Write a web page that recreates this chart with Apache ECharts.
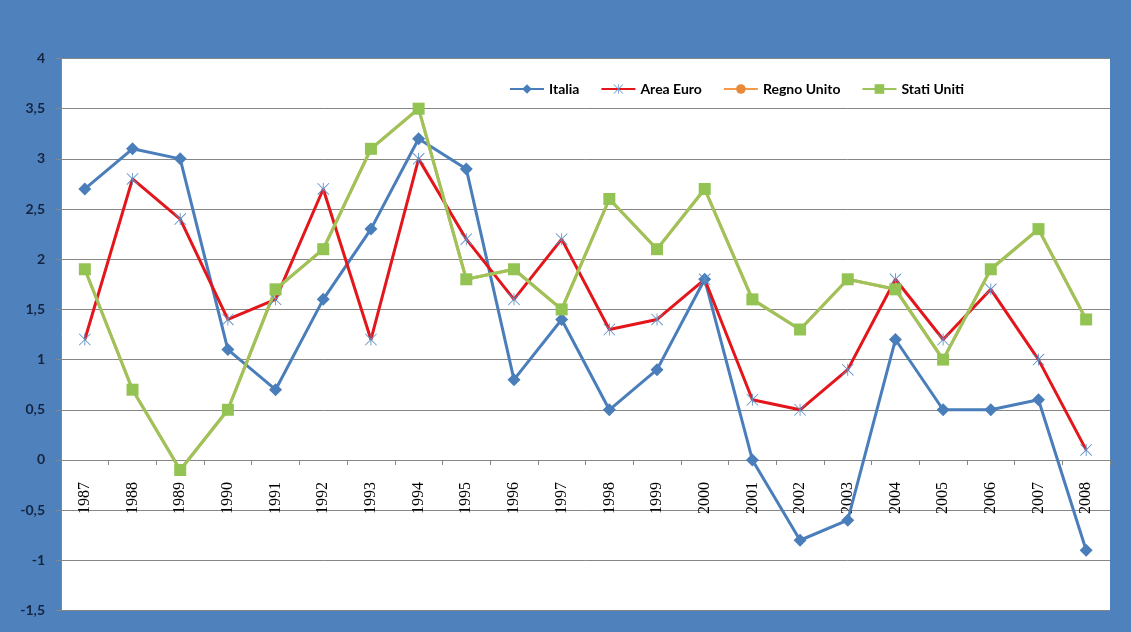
<!DOCTYPE html>
<html><head><meta charset="utf-8">
<script src="https://cdn.jsdelivr.net/npm/echarts@6/dist/echarts.min.js"></script>
<style>html,body{margin:0;padding:0;background:#4F81BD}#c{width:1131px;height:632px}</style>
</head><body><div id="c"></div>
<script>
const years = ['1987','1988','1989','1990','1991','1992','1993','1994','1995','1996','1997','1998','1999','2000','2001','2002','2003','2004','2005','2006','2007','2008'];
const italia = [2.7,3.1,3.0,1.1,0.7,1.6,2.3,3.2,2.9,0.8,1.4,0.5,0.9,1.8,0.0,-0.8,-0.6,1.2,0.5,0.5,0.6,-0.9];
const areaEuro = [1.2,2.8,2.4,1.4,1.6,2.7,1.2,3.0,2.2,1.6,2.2,1.3,1.4,1.8,0.6,0.5,0.9,1.8,1.2,1.7,1.0,0.1];
const regnoUnito = [1.9,0.7,-0.1,0.5,1.7,2.1,3.1,3.5,1.8,1.9,1.5,2.6,2.1,2.7,1.6,1.3,1.8,1.7,1.0,1.9,2.3,1.4];
const statiUniti = [1.9,0.7,-0.1,0.5,1.7,2.1,3.1,3.5,1.8,1.9,1.5,2.6,2.1,2.7,1.6,1.3,1.8,1.7,1.0,1.9,2.3,1.4];
const yMin = -1.5, yMax = 4;

const starPath = 'path://M9.3 0 L10.7 0 L10.7 20 L9.3 20 Z M0 1 L1 0 L20 19 L19 20 Z M19 0 L20 1 L1 20 L0 19 Z';

const gridTop = 58.5, gridBottom = 21.5, H = 632;
const plotH = H - gridTop - gridBottom;
const zeroOffset = -plotH * (0 - yMin) / (yMax - yMin);

const chart = echarts.init(document.getElementById('c'), null, {renderer:'canvas'});
chart.setOption({
  backgroundColor: '#4F81BD',
  animation: false,
  grid: {left: 61, right: 21, top: gridTop, bottom: gridBottom, show: true, backgroundColor: '#FFFFFF', borderWidth: 0, outerBoundsMode: 'none', containLabel: false},
  legend: {
    top: 77, left: 504, itemWidth: 34, itemHeight: 12, itemGap: 21,
    textStyle: {fontFamily: 'Lato', fontSize: 14, fontWeight: 'bold', color: '#000'},
    data: ['Italia','Area Euro','Regno Unito','Stati Uniti']
  },
  xAxis: {
    type: 'category', data: years, boundaryGap: true, position: 'bottom', offset: zeroOffset,
    axisLine: {onZero: false, lineStyle: {color: '#868686', width: 1}},
    axisTick: {show: true, inside: false, length: 5, lineStyle: {color: '#868686'}},
    axisLabel: {rotate: 90, margin: 22, fontFamily: 'Liberation Serif', fontSize: 16, color: '#000', interval: 0}
  },
  yAxis: {
    type: 'value', min: yMin, max: yMax, interval: 0.5,
    axisLine: {show: true, lineStyle: {color: '#868686'}},
    axisTick: {show: true, length: 5, lineStyle: {color: '#868686'}},
    splitLine: {show: true, lineStyle: {color: '#868686', width: 1}},
    axisLabel: {margin: 16, fontFamily: 'Lato', fontSize: 14, fontWeight: 'bold', color: '#14243F',
      formatter: v => String(v).replace('.', ',')}
  },
  series: [
    {name: 'Italia', type: 'line', data: italia, color: '#4A7EBB',
     lineStyle: {width: 3, color: '#4A7EBB'}, symbol: 'diamond', symbolSize: [13, 13],
     itemStyle: {color: '#4A7EBB'}},
    {name: 'Area Euro', type: 'line', data: areaEuro, color: '#E3161B',
     lineStyle: {width: 3, color: '#E3161B'}, symbol: starPath, symbolSize: 12,
     itemStyle: {color: '#5B8EC6'}},
    {name: 'Regno Unito', type: 'line', data: regnoUnito, color: '#F59A4A',
     lineStyle: {width: 3, color: '#F59A4A'}, symbol: 'circle', symbolSize: 10,
     itemStyle: {color: '#E8893A'}},
    {name: 'Stati Uniti', type: 'line', data: statiUniti, color: '#9BC45A',
     lineStyle: {width: 3, color: '#9BC45A'}, symbol: 'rect', symbolSize: 12,
     itemStyle: {color: '#92C353'}}
  ]
});
</script></body></html>
